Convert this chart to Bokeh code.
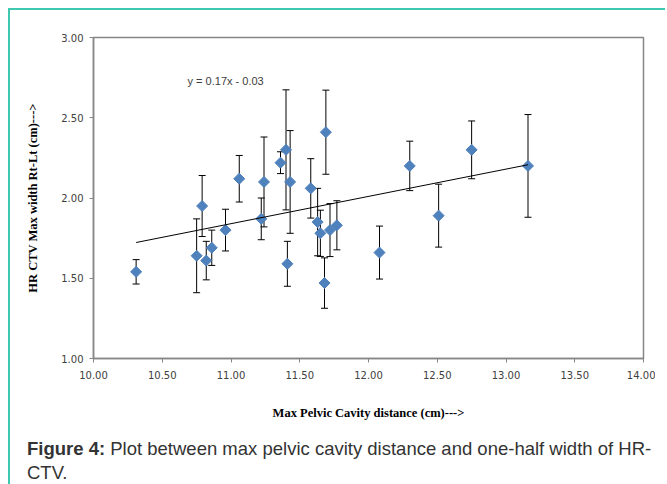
import numpy as np
from bokeh.plotting import figure
from bokeh.models import (ColumnDataSource, Whisker, TeeHead, FixedTicker,
                          PrintfTickFormatter, Label, Div)
from bokeh.layouts import column
from bokeh.embed import file_html
from bokeh.resources import INLINE

# ---- data ----
pelvic_cm = [10.31, 10.75, 10.79, 10.82, 10.86, 10.96, 11.06, 11.22, 11.24,
             11.36, 11.40, 11.41, 11.43, 11.58, 11.63, 11.65, 11.68, 11.69,
             11.72, 11.77, 12.08, 12.30, 12.51, 12.75, 13.16]
hrctv_cm = [1.54, 1.64, 1.95, 1.61, 1.69, 1.80, 2.12, 1.87, 2.10,
            2.22, 2.30, 1.59, 2.10, 2.06, 1.85, 1.78, 1.47, 2.41,
            1.80, 1.83, 1.66, 2.20, 1.89, 2.30, 2.20]
err_cm = [0.076, 0.23, 0.19, 0.12, 0.11, 0.13, 0.145, 0.13, 0.28,
          0.068, 0.374, 0.14, 0.32, 0.185, 0.21, 0.144, 0.157, 0.262,
          0.165, 0.153, 0.165, 0.154, 0.196, 0.18, 0.32]
trend_slope = 0.17
trend_intercept = -0.03
trend_label = "y = 0.17x - 0.03"
x_ticks = [10.0, 10.5, 11.0, 11.5, 12.0, 12.5, 13.0, 13.5, 14.0]
y_ticks = [1.0, 1.5, 2.0, 2.5, 3.0]
x_title = "Max Pelvic Cavity distance (cm)--->"
y_title = "HR CTV Max width Rt-Lt (cm)--->"
caption_bold = "Figure 4:"
caption_text = "Plot between max pelvic cavity distance and one-half width of HR-"
caption_text2 = "CTV."

x = np.array(pelvic_cm)
y = np.array(hrctv_cm)
e = np.array(err_cm)
src = ColumnDataSource(dict(x=x, y=y, upper=y + e, lower=y - e))

TEAL = "#3ec8b0"
AXIS = "#868686"

p = figure(width=645, height=415, x_range=(10, 14), y_range=(1, 3),
           output_backend="svg", toolbar_location=None,
           min_border_left=83, min_border_top=27, min_border_right=12,
           min_border_bottom=67)
p.grid.visible = False
p.background_fill_color = "white"
p.border_fill_color = "white"
p.outline_line_color = AXIS
p.outline_line_width = 1.5

for ax in (p.xaxis[0], p.yaxis[0]):
    ax.axis_line_color = AXIS
    ax.axis_line_width = 1.5
    ax.major_tick_line_color = AXIS
    ax.major_tick_in = 0
    ax.major_tick_out = 4
    ax.minor_tick_line_color = None
    ax.major_label_text_font = "DejaVu Sans"
    ax.major_label_text_font_size = "10px"
    ax.major_label_text_color = "#404040"
    ax.formatter = PrintfTickFormatter(format="%.2f")
    ax.axis_label_text_font = "Liberation Serif"
    ax.axis_label_text_font_style = "bold"
    ax.axis_label_text_font_size = "12.5px"
    ax.axis_label_text_color = "black"

p.xaxis[0].ticker = FixedTicker(ticks=x_ticks)
p.yaxis[0].ticker = FixedTicker(ticks=y_ticks)
p.xaxis[0].axis_label = x_title
p.yaxis[0].axis_label = y_title
p.xaxis[0].major_label_standoff = 8
p.yaxis[0].major_label_standoff = 6
p.xaxis[0].axis_label_standoff = 24
p.yaxis[0].axis_label_standoff = 18

wh = Whisker(base="x", upper="upper", lower="lower", source=src,
             line_color="black", line_width=1,
             upper_head=TeeHead(size=7, line_color="black", line_width=1),
             lower_head=TeeHead(size=7, line_color="black", line_width=1))
p.add_layout(wh)

p.scatter("x", "y", source=src, marker="square", angle=np.pi / 4, size=7.8,
          fill_color="#4F81BD", line_color="#4F81BD")

tx = np.array([x.min(), x.max()])
p.line(tx, trend_slope * tx + trend_intercept, line_color="black", line_width=1)

p.add_layout(Label(x=10.684, y=2.732, text=trend_label, text_font="Liberation Sans",
                   text_font_size="11px", text_color="#404040",
                   text_baseline="middle", text_align="left"))

cap = Div(text=f"<b>{caption_bold}</b> {caption_text}<br>{caption_text2}",
          width=645, height=57,
          styles={"font-family": "Liberation Sans", "font-size": "18.5px",
                  "color": "#333333", "line-height": "24px",
                  "padding-left": "12px", "padding-top": "7px",
                  "overflow": "hidden", "white-space": "nowrap",
                  "box-sizing": "border-box"})

layout = column(p, cap, spacing=0,
                styles={"border-top": f"2px solid {TEAL}",
                        "border-left": f"2px solid {TEAL}",
                        "margin-left": "8px", "margin-top": "8px"})

open("out.html", "w").write(file_html(layout, INLINE))
